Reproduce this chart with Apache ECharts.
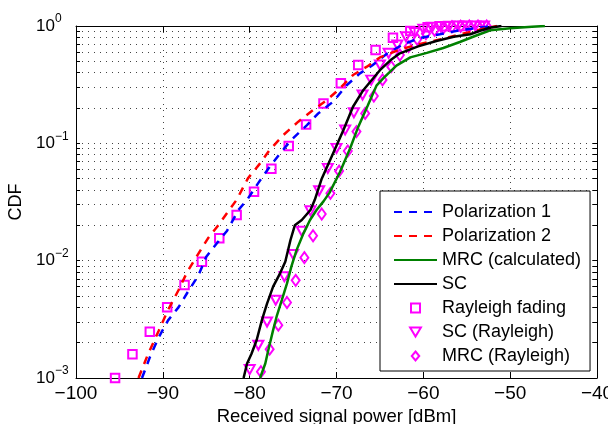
<!DOCTYPE html>
<html>
<head>
<meta charset="utf-8">
<script src="https://cdn.jsdelivr.net/npm/echarts@6/dist/echarts.min.js"></script>
<style>
  html, body { margin: 0; padding: 0; background: #fff; }
  #chart { width: 608px; height: 424px; }
</style>
</head>
<body>
<div id="chart"></div>
<script>
// 曲线数据
var pol1X = [-92.4, -91.5, -90.5, -89.4, -88.2, -87.2, -85.9, -85.0, -83.8, -82.6, -81.3, -80.3, -79.0, -77.7, -76.5, -75.2, -73.4, -72.1, -70.4, -68.8, -67.3, -65.9, -64.2, -62.3, -60.4, -58.1, -55.8, -53.5, -51.5];
var pol1Y = [0.001, 0.0015, 0.0022, 0.0031, 0.004, 0.0053, 0.0075, 0.0108, 0.014, 0.018, 0.027, 0.033, 0.046, 0.063, 0.082, 0.107, 0.143, 0.18, 0.226, 0.314, 0.395, 0.46, 0.58, 0.70, 0.79, 0.85, 0.92, 0.97, 1.0];

var pol2X = [-92.8, -91.7, -90.5, -89.4, -88.2, -87.2, -85.9, -84.8, -83.6, -82.5, -81.5, -80.2, -78.8, -77.7, -76.1, -74.4, -72.7, -71.1, -69.6, -68.1, -66.5, -65.0, -62.7, -60.5, -58.0, -55.8, -54.0, -52.8, -51.5];
var pol2Y = [0.001, 0.0016, 0.0025, 0.0038, 0.0056, 0.008, 0.0115, 0.0155, 0.0201, 0.0261, 0.033, 0.0503, 0.0675, 0.0877, 0.118, 0.153, 0.192, 0.234, 0.294, 0.382, 0.45, 0.54, 0.63, 0.70, 0.77, 0.85, 0.91, 0.96, 1.0];

var mrcX = [-78.8, -78.2, -77.85, -77.3, -76.9, -76.3, -75.7, -75.2, -74.6, -73.8, -73.05, -72.3, -71.5, -70.8, -69.6, -68.45, -67.5, -66.4, -65.4, -64.6, -63.1, -61.5, -59.6, -57.7, -55.8, -53.9, -52.3, -50.0, -47.5, -46.0];
var mrcY = [0.001, 0.00133, 0.00173, 0.00256, 0.00333, 0.0046, 0.0064, 0.0089, 0.0123, 0.0171, 0.0222, 0.027, 0.032, 0.038, 0.057, 0.09, 0.138, 0.21, 0.31, 0.36, 0.46, 0.54, 0.59, 0.65, 0.73, 0.83, 0.92, 0.955, 0.985, 1.0];

var scX = [-80.7, -80.3, -79.8, -79.2, -78.6, -78.0, -77.3, -76.5, -75.9, -75.3, -74.8, -74.0, -73.0, -72.5, -71.7, -70.4, -69.2, -68.1, -66.9, -65.0, -63.8, -62.7, -60.6, -58.5, -56.5, -54.6, -53.3, -52.2, -51.0];
var scY = [0.001, 0.00133, 0.0016, 0.0021, 0.0031, 0.0043, 0.006, 0.0078, 0.0098, 0.015, 0.020, 0.0222, 0.027, 0.033, 0.05, 0.082, 0.13, 0.205, 0.285, 0.42, 0.51, 0.585, 0.67, 0.745, 0.81, 0.85, 0.92, 0.97, 1.0];

// Rayleigh 理论点
var rayX = [-95.5, -93.5, -91.5, -89.5, -87.5, -85.5, -83.5, -81.5, -79.5, -77.5, -75.5, -73.5, -71.5, -69.5, -67.5, -65.5, -63.5, -61.5, -59.5, -57.5, -55.5, -53.5];
var rayY = [0.001, 0.00159, 0.00248, 0.004, 0.0062, 0.0098, 0.0155, 0.0245, 0.0387, 0.0608, 0.0948, 0.145, 0.218, 0.325, 0.465, 0.624, 0.795, 0.906, 0.975, 0.997, 1.0, 1.0];

var scRayX = [-80, -79, -78, -77, -76, -75, -74, -73, -72, -71, -70, -69, -68, -67, -66, -65, -64, -63, -62, -61, -60, -59, -58, -57, -56, -55, -54, -53];
var scRayY = [0.00118, 0.0019, 0.003, 0.0046, 0.0073, 0.0113, 0.0178, 0.0266, 0.0394, 0.0612, 0.0906, 0.130, 0.182, 0.258, 0.346, 0.465, 0.585, 0.689, 0.81, 0.88, 0.94, 0.975, 0.99, 0.998, 1.0, 1.0, 1.0, 1.0];

var mrcRayX = [-78.7, -77.7, -76.7, -75.7, -74.7, -73.7, -72.7, -71.7, -70.7, -69.7, -68.7, -67.7, -66.7, -65.7, -64.7, -63.7, -62.7, -61.7, -60.7, -59.7, -58.7, -57.7, -56.7, -55.7, -54.7, -53.7, -52.7];
var mrcRayY = [0.00113, 0.00176, 0.00282, 0.0044, 0.0068, 0.0106, 0.0163, 0.025, 0.0375, 0.058, 0.086, 0.126, 0.18, 0.253, 0.347, 0.45, 0.566, 0.667, 0.77, 0.86, 0.92, 0.96, 0.985, 0.995, 1.0, 1.0, 1.0];

// 刻度
var yMinorTicks = [0.001, 0.002, 0.003, 0.004, 0.005, 0.006, 0.007, 0.008, 0.009,
  0.01, 0.02, 0.03, 0.04, 0.05, 0.06, 0.07, 0.08, 0.09,
  0.1, 0.2, 0.3, 0.4, 0.5, 0.6, 0.7, 0.8, 0.9, 1];
var yLabelTicks = [0.001, 0.01, 0.1, 1];

var FONT = '"Liberation Sans", Arial, sans-serif';

function pairs(xs, ys) {
  return xs.map(function (x, i) { return [x, ys[i]]; });
}
function minus(v) {
  return v < 0 ? '\u2212' + (-v) : String(v);
}

var dotted = { color: '#444', width: 1, type: [1, 5] };
var hollow = { color: 'rgba(255,0,255,0)', borderColor: '#ff00ff', borderWidth: 2, opacity: 1 };
var noSymbol = { opacity: 0 };

var option = {
  animation: false,
  backgroundColor: '#fff',
  textStyle: { fontFamily: FONT },
  grid: { left: 76, right: 11, top: 26, bottom: 46, outerBoundsMode: 'none', containLabel: false },
  xAxis: [
    {
      type: 'value', min: -100, max: -40, interval: 10, position: 'bottom',
      name: 'Received signal power [dBm]', nameLocation: 'middle', nameGap: 24,
      nameTextStyle: { fontSize: 18.5, color: '#000', fontFamily: FONT },
      axisLine: { show: true, lineStyle: { color: '#000', width: 1 } },
      axisTick: { show: true, inside: true, length: 6, lineStyle: { color: '#000' } },
      axisLabel: { color: '#000', fontSize: 19, margin: 6, fontFamily: FONT, formatter: minus },
      splitLine: { show: true, lineStyle: dotted }
    },
    {
      type: 'value', min: -100, max: -40, interval: 10, position: 'top',
      axisLine: { show: true, lineStyle: { color: '#000', width: 1 } },
      axisTick: { show: true, inside: true, length: 6, lineStyle: { color: '#000' } },
      axisLabel: { show: false },
      splitLine: { show: false }
    }
  ],
  yAxis: [
    {
      type: 'log', logBase: 10, min: 0.001, max: 1, position: 'left',
      name: 'CDF', nameLocation: 'middle', nameGap: 43, nameRotate: 90,
      nameTextStyle: { fontSize: 18, color: '#000', fontFamily: FONT },
      axisLine: { show: true, lineStyle: { color: '#000', width: 1 } },
      axisTick: { show: true, inside: true, length: 4, customValues: yMinorTicks, lineStyle: { color: '#000' } },
      axisLabel: {
        customValues: yLabelTicks, align: 'left', margin: 40, color: '#000',
        formatter: function (v) {
          var e = Math.round(Math.log10(v));
          return '{b|10}{s|' + minus(e) + '}';
        },
        rich: {
          b: { fontSize: 17, lineHeight: 26, fontFamily: FONT, color: '#000' },
          s: { fontSize: 12, lineHeight: 12, verticalAlign: 'top', fontFamily: FONT, color: '#000' }
        }
      },
      splitLine: { show: true, lineStyle: dotted }
    },
    {
      type: 'log', logBase: 10, min: 0.001, max: 1, position: 'right',
      axisLine: { show: true, lineStyle: { color: '#000', width: 1 } },
      axisTick: { show: true, inside: true, length: 4, customValues: yMinorTicks, lineStyle: { color: '#000' } },
      axisLabel: { show: false },
      splitLine: { show: false }
    }
  ],
  legend: {
    orient: 'vertical', left: 380, top: 191,
    backgroundColor: '#fff', borderColor: '#000', borderWidth: 1, borderRadius: 0,
    padding: [12, 9, 6, 13], itemWidth: 43, itemHeight: 9, itemGap: 6,
    symbolKeepAspect: true,
    textStyle: { fontSize: 18, lineHeight: 18, color: '#000', fontFamily: FONT },
    data: [
      { name: 'Polarization 1', itemStyle: noSymbol },
      { name: 'Polarization 2', itemStyle: noSymbol },
      { name: 'MRC (calculated)', itemStyle: noSymbol },
      { name: 'SC', itemStyle: noSymbol },
      { name: 'Rayleigh fading', icon: 'path://M0,0H10V10H0Z' },
      { name: 'SC (Rayleigh)', icon: 'path://M0,0H12L6,10Z' },
      { name: 'MRC (Rayleigh)', icon: 'path://M5,0L10,6L5,12L0,6Z' }
    ]
  },
  series: [
    {
      name: 'Polarization 1', type: 'line', symbol: 'none', data: pairs(pol1X, pol1Y),
      lineStyle: { color: '#0000ff', width: 2.5, type: [8, 7] }, itemStyle: { color: '#0000ff' }
    },
    {
      name: 'Polarization 2', type: 'line', symbol: 'none', data: pairs(pol2X, pol2Y),
      lineStyle: { color: '#ff0000', width: 2.5, type: [8, 7] }, itemStyle: { color: '#ff0000' }
    },
    {
      name: 'MRC (calculated)', type: 'line', symbol: 'none', data: pairs(mrcX, mrcY),
      lineStyle: { color: '#008000', width: 2.5 }, itemStyle: { color: '#008000' }
    },
    {
      name: 'SC', type: 'line', symbol: 'none', data: pairs(scX, scY),
      lineStyle: { color: '#000000', width: 2.5 }, itemStyle: { color: '#000000' }
    },
    {
      name: 'Rayleigh fading', type: 'scatter', symbol: 'rect', symbolSize: 8.5,
      data: pairs(rayX, rayY), itemStyle: hollow
    },
    {
      name: 'SC (Rayleigh)', type: 'scatter', symbol: 'triangle', symbolRotate: 180, symbolSize: [10, 9],
      data: pairs(scRayX, scRayY), itemStyle: hollow
    },
    {
      name: 'MRC (Rayleigh)', type: 'scatter', symbol: 'diamond', symbolSize: [8, 11],
      data: pairs(mrcRayX, mrcRayY), itemStyle: hollow
    }
  ]
};

var myChart = echarts.init(document.getElementById('chart'));
myChart.setOption(option);
</script>
</body>
</html>
